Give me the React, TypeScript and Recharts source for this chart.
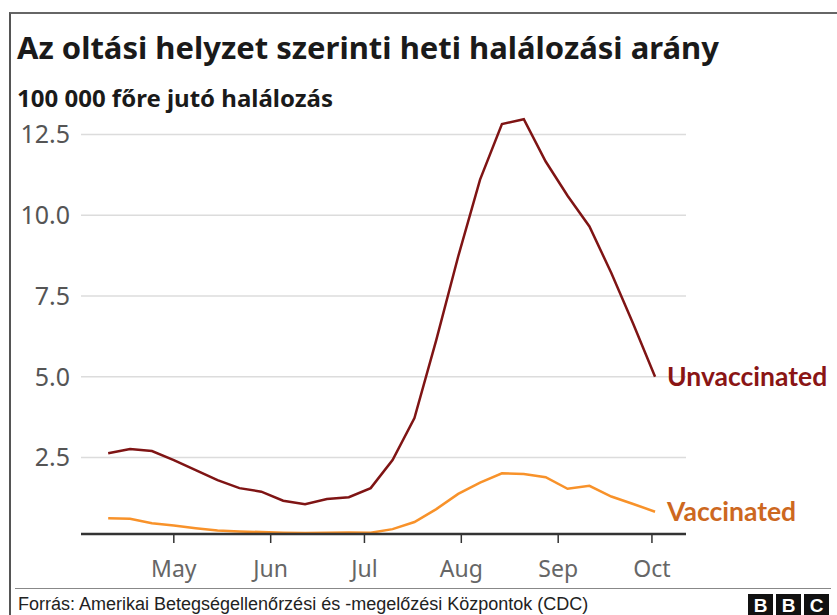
import React from "react";
import { LineChart, Line, XAxis, YAxis, CartesianGrid } from "recharts";

// weekly data, week ending dates (2021)
const weeks = [
  "2021-04-10", "2021-04-17", "2021-04-24", "2021-05-01", "2021-05-08",
  "2021-05-15", "2021-05-22", "2021-05-29", "2021-06-05", "2021-06-12",
  "2021-06-19", "2021-06-26", "2021-07-03", "2021-07-10", "2021-07-17",
  "2021-07-24", "2021-07-31", "2021-08-07", "2021-08-14", "2021-08-21",
  "2021-08-28", "2021-09-04", "2021-09-11", "2021-09-18", "2021-09-25",
  "2021-10-02",
];

const unvaccinated = [
  2.63, 2.76, 2.7, 2.42, 2.11, 1.8, 1.55, 1.44, 1.16, 1.05, 1.21, 1.27, 1.55,
  2.42, 3.72, 6.14, 8.72, 11.1, 12.82, 12.97, 11.66, 10.6, 9.65, 8.21, 6.64,
  5.0,
];

const vaccinated = [
  0.62, 0.6, 0.46, 0.39, 0.31, 0.24, 0.21, 0.19, 0.17, 0.16, 0.17, 0.18, 0.17,
  0.28, 0.5, 0.9, 1.37, 1.72, 2.01, 1.99, 1.89, 1.53, 1.62, 1.29, 1.06, 0.82,
];

const monthTicks = ["2021-05-01", "2021-06-01", "2021-07-01", "2021-08-01", "2021-09-01", "2021-10-01"];
const monthLabels = ["May", "Jun", "Jul", "Aug", "Sep", "Oct"];
const yTicks = [2.5, 5, 7.5, 10, 12.5];

const dayOfYear = (s: string) =>
  Math.round((Date.parse(s) - Date.parse("2021-01-01")) / 86400000) + 1;

const data = weeks.map((w, i) => ({
  day: dayOfYear(w),
  unvaccinated: unvaccinated[i],
  vaccinated: vaccinated[i],
}));

const monthDays = monthTicks.map(dayOfYear);

const UNVAX = "#7f1414";
const VAX = "#f8922a";
const SANS = "'Noto Sans', 'Open Sans', sans-serif";

function endLabel(text: string, color: string) {
  return (props: any) => {
    if (props.index !== data.length - 1) return null;
    return (
      <text
        x={props.x + 12}
        y={props.y}
        dy="0.36em"
        fill={color}
        fontSize={26.5}
        fontWeight={700}
        fontFamily="Lato, 'Noto Sans', sans-serif"
      >
        {text}
      </text>
    );
  };
}

export default function App() {
  return (
    <div
      style={{
        position: "absolute",
        left: 0,
        top: 0,
        width: 837,
        height: 615,
        background: "#fff",
        overflow: "hidden",
        fontFamily: SANS,
      }}
    >
      {/* frame */}
      <div
        style={{
          position: "absolute",
          left: 9,
          top: 12,
          width: 840,
          height: 620,
          borderLeft: "2px solid #555",
          borderTop: "2px solid #666",
        }}
      />
      <div
        style={{
          position: "absolute",
          left: 17,
          top: 26,
          fontSize: 31,
          fontWeight: 700,
          color: "#1a1a1a",
          whiteSpace: "nowrap",
          lineHeight: "42px",
        }}
      >
        Az oltási helyzet szerinti heti halálozási arány
      </div>
      <div
        style={{
          position: "absolute",
          left: 17,
          top: 82,
          fontSize: 24,
          fontWeight: 700,
          color: "#1a1a1a",
          whiteSpace: "nowrap",
          lineHeight: "32px",
        }}
      >
        100 000 főre jutó halálozás
      </div>

      <div style={{ position: "absolute", left: 0, top: 0 }}>
        <LineChart
          width={837}
          height={615}
          data={data}
          margin={{ top: 105, right: 151, bottom: 41, left: 10 }}
        >
          <CartesianGrid
            vertical={false}
            horizontalValues={yTicks}
            stroke="#dcdcdc"
            strokeWidth={1.5}
          />
          <XAxis
            dataKey="day"
            type="number"
            domain={[91.3, 284.9]}
            ticks={monthDays}
            tickFormatter={(v: number) => monthLabels[monthDays.indexOf(v)]}
            axisLine={{ stroke: "#333", strokeWidth: 2.5 }}
            tickLine={{ stroke: "#333", strokeWidth: 1.5 }}
            tickSize={9}
            tickMargin={18}
            height={40}
            tick={{ fill: "#666", fontSize: 23, fontFamily: SANS }}
            allowDataOverflow
          />
          <YAxis
            type="number"
            domain={[0.13, 13.41]}
            ticks={yTicks}
            tickFormatter={(v: number) => v.toFixed(1)}
            axisLine={false}
            tickLine={false}
            tickSize={0}
            tickMargin={11}
            width={71}
            tick={{ fill: "#555", fontSize: 25, fontFamily: SANS }}
            allowDataOverflow
          />
          <Line
            dataKey="vaccinated"
            type="linear"
            stroke={VAX}
            strokeWidth={2.5}
            dot={false}
            isAnimationActive={false}
            label={endLabel("Vaccinated", "#cd681f")}
          />
          <Line
            dataKey="unvaccinated"
            type="linear"
            stroke={UNVAX}
            strokeWidth={2.5}
            dot={false}
            isAnimationActive={false}
            label={endLabel("Unvaccinated", "#8a1515")}
          />
        </LineChart>
      </div>

      {/* footer */}
      <div
        style={{
          position: "absolute",
          left: 15,
          top: 588,
          width: 816,
          height: 0,
          borderTop: "1.5px solid #888",
        }}
      />
      <div
        style={{
          position: "absolute",
          left: 18,
          top: 593,
          fontSize: 18,
          fontFamily: "'Liberation Sans', Arial, sans-serif",
          color: "#222",
          whiteSpace: "nowrap",
          lineHeight: "22px",
        }}
      >
        Forrás: Amerikai Betegségellenőrzési és -megelőzési Központok (CDC)
      </div>
      <div
        style={{
          position: "absolute",
          left: 748,
          top: 594,
          display: "flex",
          gap: 3,
        }}
      >
        {["B", "B", "C"].map((c, i) => (
          <div
            key={i}
            style={{
              width: 25,
              height: 22,
              background: "#111",
              color: "#fff",
              fontSize: 19,
              fontWeight: 700,
              fontFamily: "'Liberation Sans', Arial, sans-serif",
              lineHeight: "23px",
              textAlign: "center",
            }}
          >
            {c}
          </div>
        ))}
      </div>
    </div>
  );
}
